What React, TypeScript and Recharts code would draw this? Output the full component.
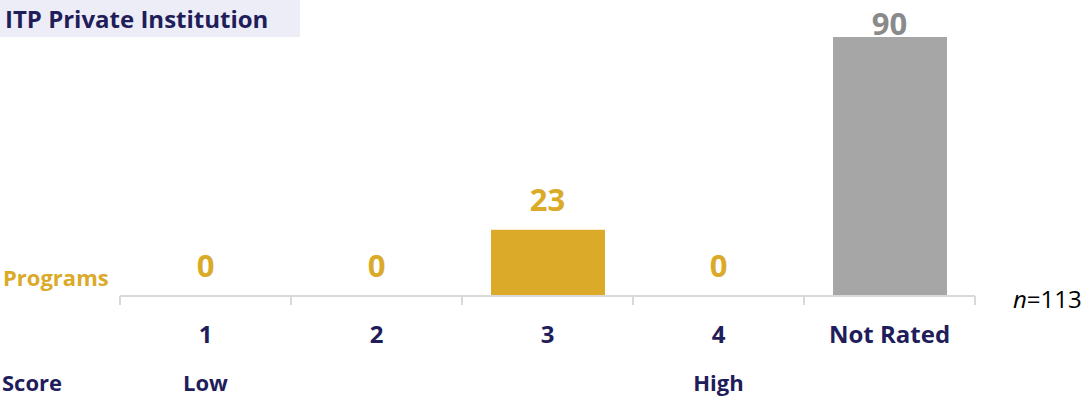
import React from 'react';
import { ComposedChart, Bar, Line, XAxis, YAxis, Cell, LabelList } from 'recharts';

const categories = ['1', '2', '3', '4', 'Not Rated'];
const programs = [0, 0, 23, 0, 90];
const scoreNotes = ['Low', '', '', 'High', ''];
const totalN = 113;

const NAVY = '#1F1D5A';
const GOLD = '#DAAA28';
const GREY = '#A6A6A6';
const GREY_TEXT = '#8A8A8A';
const AXIS = '#D9D9D9';
const FONT = '"Open Sans", sans-serif';

const data = categories.map((name, i) => ({ name, value: programs[i], note: scoreNotes[i] }));

const isRated = (name: string) => name !== 'Not Rated';

const ScoreTick = (props: any) => {
  const { x, y, payload, index } = props;
  const half = payload && payload.offset ? payload.offset : 85.5;
  const last = index === categories.length - 1;
  return (
    <g>
      <line x1={x - half} x2={x - half} y1={y} y2={y + 9} stroke={AXIS} strokeWidth={2} />
      {last && <line x1={x + half} x2={x + half} y1={y} y2={y + 9} stroke={AXIS} strokeWidth={2} />}
      <text x={x} y={y + 37} textAnchor="middle" dominantBaseline="central" fill={NAVY}
        fontFamily={FONT} fontWeight={700} fontSize={24}>
        {payload.value}
      </text>
      {data[index] && data[index].note && (
        <text x={x} y={y + 86} textAnchor="middle" dominantBaseline="central" fill={NAVY}
          fontFamily={FONT} fontWeight={700} fontSize={22}>
          {data[index].note}
        </text>
      )}
    </g>
  );
};

const ValueLabel = (props: any) => {
  const { x, y, width, value, index } = props;
  const cx = width ? x + width / 2 : x;
  const cy = Math.max(y - 31, 23);
  const name = categories[index];
  return (
    <text x={cx} y={cy} textAnchor="middle" dominantBaseline="central"
      fill={isRated(name) ? GOLD : GREY_TEXT} fontFamily={FONT} fontWeight={700} fontSize={31}>
      {value}
    </text>
  );
};

export default function App() {
  return (
    <div style={{ position: 'absolute', left: 0, top: 0, width: 1089, height: 401, background: '#fff', fontFamily: FONT, overflow: 'hidden' }}>
      <div style={{
        position: 'absolute', left: 0, top: 0, width: 300, height: 37, background: '#EDEDF7',
        color: NAVY, fontWeight: 700, fontSize: 24, lineHeight: '37px', paddingLeft: 5, boxSizing: 'border-box',
        whiteSpace: 'nowrap',
      }}>
        ITP Private Institution
      </div>
      <div style={{ position: 'absolute', left: 3, top: 264, color: GOLD, fontWeight: 700, fontSize: 22, lineHeight: '26px' }}>
        Programs
      </div>
      <div style={{ position: 'absolute', left: 2, top: 370, color: NAVY, fontWeight: 700, fontSize: 22, lineHeight: '24px' }}>
        Score
      </div>
      <div style={{ position: 'absolute', left: 1013, top: 284, color: '#000', fontSize: 24, lineHeight: '30px' }}>
        <i>n</i>={totalN}
      </div>
      <ComposedChart width={1089} height={401} data={data}
        margin={{ top: 37, right: 114, bottom: 0, left: 120 }} barSize={114}>
        <XAxis dataKey="name" axisLine={{ stroke: AXIS, strokeWidth: 2 }} tickLine={false}
          tickSize={0} tickMargin={0} tick={<ScoreTick />} interval={0} height={105} />
        <YAxis hide domain={[0, 90]} />
        <Bar dataKey="value" isAnimationActive={false}>
          {data.map((d) => (
            <Cell key={d.name} fill={isRated(d.name) ? GOLD : GREY} />
          ))}
        </Bar>
        <Line dataKey="value" stroke="none" dot={false} activeDot={false} legendType="none" isAnimationActive={false}>
          <LabelList dataKey="value" content={<ValueLabel />} />
        </Line>
      </ComposedChart>
    </div>
  );
}
